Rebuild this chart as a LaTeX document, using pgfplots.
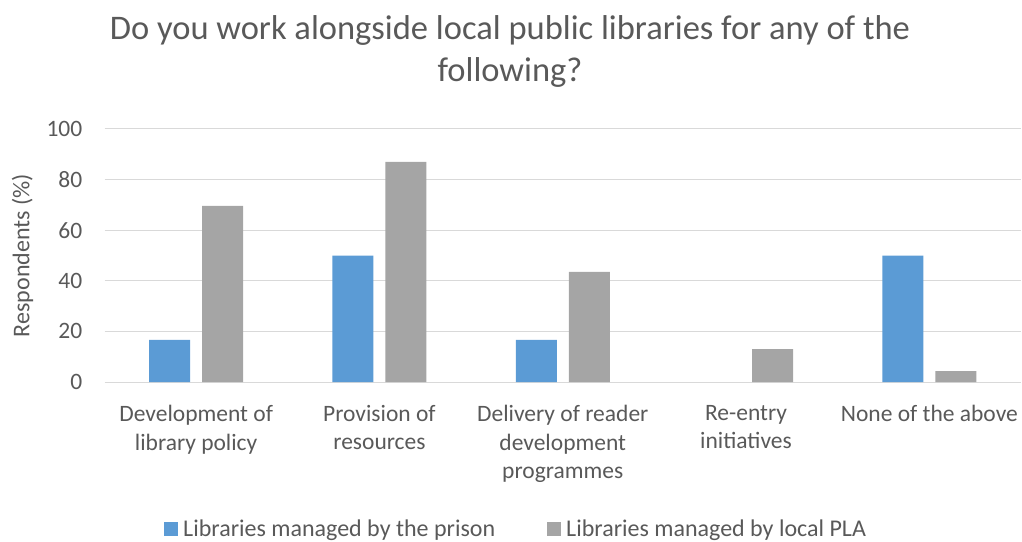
\documentclass[border=0pt]{standalone}
\usepackage{pgfplots}
\pgfplotsset{compat=1.18}
\usepackage{fontspec}
\setmainfont{Carlito}
\definecolor{sblue}{HTML}{5B9BD5}
\definecolor{sgray}{HTML}{A5A5A5}
\definecolor{txt}{HTML}{595959}
\definecolor{gridc}{HTML}{D9D9D9}
\begin{document}
\begin{tikzpicture}
\useasboundingbox (0,0) rectangle (1022pt,541pt);
\node[align=center, text=txt, font=\fontsize{34.5}{42}\selectfont] at (510pt,490pt)
  {Do you work alongside local public libraries for any of the\\following?};
\begin{axis}[
  at={(104.5pt,159pt)}, anchor=south west,
  scale only axis, width=916.5pt, height=253pt,
  ybar=12pt, bar width=41pt,
  xmin=-0.5, xmax=4.5, ymin=0, ymax=100,
  axis line style={draw=none},
  major tick length=0pt,
  ymajorgrids, grid style={draw=gridc, line width=1pt},
  xtick={0,1,2,3,4},
  xticklabels={{Development of\\library policy},{Provision of\\resources},{Delivery of reader\\development\\programmes},{Re-entry\\initiatives},{None of the above}},
  xticklabel style={align=center, anchor=north, inner sep=0pt, yshift=-23pt},
  ytick={0,20,40,60,80,100},
  yticklabel style={anchor=east, inner sep=0pt, xshift=-22pt},
  tick label style={font=\fontsize{23.5}{28.5}\selectfont, text=txt},
  /pgf/number format/assume math mode=true,
  ylabel={Respondents (\%)},
  ylabel style={at={(axis description cs:-0.0895,0.5)}, anchor=center, font=\fontsize{24}{28.5}\selectfont, text=txt},
  legend columns=2,
  legend style={at={(0.448,-0.580)}, anchor=center, draw=none, fill=none,
    font=\fontsize{24}{28.5}\selectfont, text=txt,
    nodes={inner sep=0pt},
    /tikz/every odd column/.append style={column sep=5pt},
    /tikz/every even column/.append style={column sep=52pt}},
]
\addplot[fill=sblue, draw=none, legend image code/.code={\fill[sblue] (0pt,-7pt) rectangle (14pt,7pt);}]
  coordinates {(0,16.7) (1,50) (2,16.7) (4,50)};
\addlegendentry{Libraries managed by the prison}
\addplot[fill=sgray, draw=none, legend image code/.code={\fill[sgray] (0pt,-7pt) rectangle (14pt,7pt);}]
  coordinates {(0,69.6) (1,87) (2,43.5) (3,13) (4,4.3)};
\addlegendentry{Libraries managed by local PLA}
\end{axis}
\end{tikzpicture}
\end{document}
